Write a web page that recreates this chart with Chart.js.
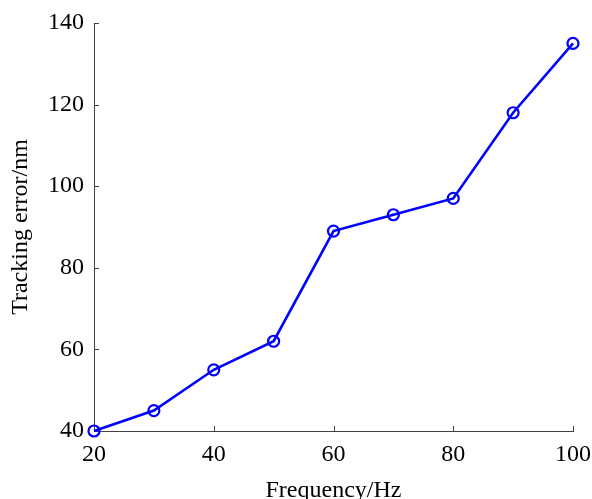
<!DOCTYPE html>
<html>
<head>
<meta charset="utf-8">
<script src="https://cdn.jsdelivr.net/npm/chart.js@4/dist/chart.umd.min.js"></script>
<style>
html,body{margin:0;padding:0;background:#fff;}
#wrap{width:592px;height:499px;}
</style>
</head>
<body>
<div id="wrap"><canvas id="myChart" width="592" height="499"></canvas></div>
<script>
// 데이터
var freq = [20, 30, 40, 50, 60, 70, 80, 90, 100];
var trackErr = [40, 45, 55, 62, 89, 93, 97, 118, 135];
var xTicks = [20, 40, 60, 80, 100];
var yTicks = [40, 60, 80, 100, 120, 140];

var axisColor = '#404040';
var serif = "'Liberation Serif', 'Times New Roman', serif";

// 안쪽 눈금 그리기
var innerTicks = {
	id: 'innerTicks',
	beforeDatasetsDraw: function(chart){
		var c = chart.ctx, xs = chart.scales.x, ys = chart.scales.y;
		c.save();
		c.strokeStyle = axisColor;
		c.lineWidth = 1;
		c.beginPath();
		xTicks.forEach(function(v){
			var px = Math.round(xs.getPixelForValue(v)) + 0.5;
			c.moveTo(px, ys.bottom);
			c.lineTo(px, ys.bottom - 5);
		});
		yTicks.forEach(function(v){
			var py = Math.round(ys.getPixelForValue(v)) + 0.5;
			c.moveTo(xs.left, py);
			c.lineTo(xs.left + 5, py);
		});
		c.stroke();
		c.restore();
	}
};

new Chart(document.getElementById('myChart'), {
	type: 'line',
	data: {
		datasets: [{
			data: freq.map(function(f, i){ return {x: f, y: trackErr[i]}; }),
			borderColor: '#0000ff',
			borderWidth: 2.6,
			pointStyle: 'circle',
			pointRadius: 5.5,
			pointBorderWidth: 2.2,
			pointBorderColor: '#0000ff',
			pointBackgroundColor: 'rgba(255,255,255,0)',
			tension: 0,
			clip: false
		}]
	},
	options: {
		responsive: false,
		animation: false,
		layout: {padding: {top: 23, right: 19, left: 0, bottom: 0}},
		plugins: {legend: {display: false}, tooltip: {enabled: false}},
		scales: {
			x: {
				type: 'linear',
				min: 20, max: 100,
				afterBuildTicks: function(s){ s.ticks = xTicks.map(function(v){ return {value: v}; }); },
				afterFit: function(s){ s.height = 68; s.paddingLeft = 0; s.paddingRight = 0; },
				grid: {display: false, drawTicks: false},
				border: {display: true, color: axisColor, width: 1},
				ticks: {color: '#000', font: {family: serif, size: 24}, padding: 9, maxRotation: 0},
				title: {display: true, text: 'Frequency/Hz', color: '#000', font: {family: serif, size: 24}, padding: {top: 0, bottom: -6}}
			},
			y: {
				type: 'linear',
				min: 40, max: 140,
				afterBuildTicks: function(s){ s.ticks = yTicks.map(function(v){ return {value: v}; }); },
				afterFit: function(s){ s.width = 94; s.paddingTop = 0; s.paddingBottom = 0; },
				grid: {display: false, drawTicks: false},
				border: {display: true, color: axisColor, width: 1},
				ticks: {color: '#000', font: {family: serif, size: 24}, padding: 10},
				title: {display: true, text: 'Tracking error/nm', color: '#000', font: {family: serif, size: 24}, padding: {top: 6.5, bottom: 0}}
			}
		}
	},
	plugins: [innerTicks]
});
</script>
</body>
</html>
